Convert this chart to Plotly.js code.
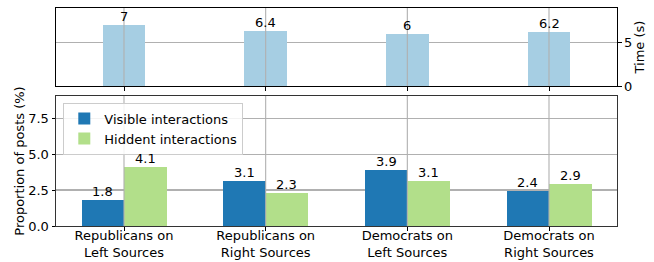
<!DOCTYPE html>
<html><head><meta charset="utf-8">
<script src="https://cdn.plot.ly/plotly-3.0.1.min.js"></script>
<style>html,body{margin:0;padding:0;background:#fff;}</style>
</head><body><div id="chart" style="width:654px;height:262px;"></div>
<script>
const categories = ["Republicans on<br>Left Sources", "Republicans on<br>Right Sources", "Democrats on<br>Left Sources", "Democrats on<br>Right Sources"];
const timeValues = [7, 6.4, 6, 6.2];
const visibleValues = [1.8, 3.1, 3.9, 2.4];
const hiddenValues = [4.1, 2.3, 3.1, 2.9];
const seriesNames = ["Visible interactions", "Hiddent interactions"];

const FONT = "DejaVu Sans, sans-serif";
const FS = 13;
const GRID = "#b0b0b0";

const traces = [
  {type: "bar", x: categories, y: timeValues, xaxis: "x", yaxis: "y", width: 0.3,
   marker: {color: "#a6cee3"}, showlegend: false},
  {type: "bar", name: seriesNames[0], x: categories, y: visibleValues, xaxis: "x2", yaxis: "y2",
   width: 0.3, offset: -0.3, marker: {color: "#1f78b4"}},
  {type: "bar", name: seriesNames[1], x: categories, y: hiddenValues, xaxis: "x2", yaxis: "y2",
   width: 0.3, offset: 0, marker: {color: "#b2df8a"}}
];

const annotations = [];
function addLabels(vals, xr, yr, shift) {
  vals.forEach((v, i) => annotations.push({xref: xr, yref: yr, x: categories[i], y: v, text: String(v),
    showarrow: false, xanchor: "center", yanchor: "bottom", xshift: shift, yshift: -1,
    font: {family: FONT, size: FS, color: "#000"}}));
}
addLabels(timeValues, "x", "y", 0);
addLabels(visibleValues, "x2", "y2", -21.2);
addLabels(hiddenValues, "x2", "y2", 21.2);

const shapes = [];
categories.forEach(c => {
  ["x", "x2"].forEach((xr, i) => {
    shapes.push({type: "line", xref: xr, yref: (i === 0 ? "y domain" : "y2 domain"),
      x0: c, x1: c, y0: 0, y1: 1, layer: "above", line: {color: GRID, width: 1.1}});
  });
});

const xBase = {type: "category", range: [-0.48, 3.48], showgrid: false, showline: true, mirror: true,
  ticks: "outside", ticklen: 3.5, tickwidth: 1, tickcolor: "#000", zeroline: false,
  tickfont: {family: FONT, size: FS, color: "#000"}};

const layout = {
  width: 654, height: 262,
  margin: {l: 56, r: 37, t: 8, b: 36},
  paper_bgcolor: "#fff", plot_bgcolor: "#fff",
  font: {family: FONT, size: FS, color: "#000"},
  bargap: 0,
  xaxis: Object.assign({}, xBase, {anchor: "y", showticklabels: false, linecolor: "#000"}),
  yaxis: {domain: [0.642, 1], range: [0, 9], side: "right", anchor: "x", tickvals: [0, 5],
    showgrid: true, gridcolor: GRID, gridwidth: 1.1, showline: true, mirror: true, linecolor: "#000",
    ticks: "outside", ticklen: 3.5, tickcolor: "#000", zeroline: false,
    tickfont: {family: FONT, size: FS, color: "#000"},
    title: {text: "Time (s)", font: {family: FONT, size: FS, color: "#000"}, standoff: 3}},
  xaxis2: Object.assign({}, xBase, {anchor: "y2", linecolor: "#333", ticklabelstandoff: -6}),
  yaxis2: {domain: [0, 0.596], range: [0, 9.03], anchor: "x2", tickvals: [0, 2.5, 5, 7.5], tickformat: ".1f",
    showgrid: true, gridcolor: GRID, gridwidth: 1.1, showline: true, mirror: true, linecolor: "#333",
    ticks: "outside", ticklen: 3.5, tickcolor: "#000", zeroline: false,
    tickfont: {family: FONT, size: FS, color: "#000"},
    title: {text: "Proportion of posts (%)", font: {family: FONT, size: FS, color: "#000"}, standoff: 0}},
  showlegend: true,
  legend: {x: 0.013, y: 0.566, xref: "paper", yref: "paper", xanchor: "left", yanchor: "top",
    bgcolor: "rgba(255,255,255,0.85)", bordercolor: "#cccccc", borderwidth: 1,
    font: {family: FONT, size: FS, color: "#000"}, tracegroupgap: 0, itemwidth: 30},
  annotations: annotations,
  shapes: shapes
};

Plotly.newPlot("chart", traces, layout, {displayModeBar: false, staticPlot: true});
</script></body></html>
